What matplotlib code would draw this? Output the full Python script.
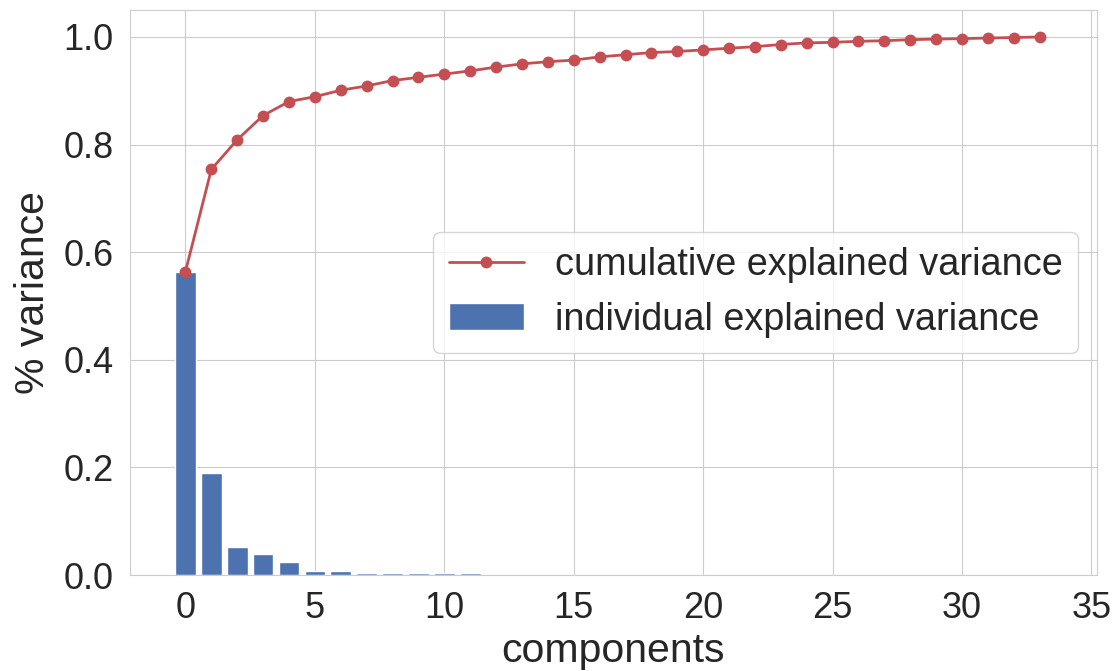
import matplotlib
matplotlib.use("Agg")
import matplotlib.pyplot as plt
import seaborn as sns

components = list(range(34))
individual = [0.564, 0.189, 0.053, 0.040, 0.024, 0.008, 0.008, 0.004, 0.004, 0.004,
              0.004, 0.004, 0.0, 0.0, 0.0, 0.0, 0.0, 0.0, 0.0, 0.0,
              0.0, 0.0, 0.0, 0.0, 0.0, 0.0, 0.0, 0.0, 0.0, 0.0,
              0.0, 0.0, 0.0, 0.0]
cumulative = [0.564, 0.754, 0.809, 0.854, 0.880, 0.889, 0.901, 0.909, 0.919, 0.925,
              0.931, 0.937, 0.944, 0.950, 0.954, 0.957, 0.963, 0.967, 0.971, 0.973,
              0.976, 0.979, 0.982, 0.986, 0.989, 0.990, 0.992, 0.993, 0.995, 0.996,
              0.997, 0.998, 0.999, 1.000]

sns.set_style("whitegrid")
plt.rcParams['font.family'] = ['Liberation Sans', 'DejaVu Sans']

fig, ax = plt.subplots(figsize=(11.19, 6.71), dpi=100)
ax.bar(components, individual, width=0.8, color="#4C72B0",
       label="individual explained variance")
ax.plot(components, cumulative, color="#C44E52", marker="o", markersize=7.5,
        linewidth=2, label="cumulative explained variance")

ax.set_xlim(-2.15, 35.2)
ax.set_ylim(0, 1.05)
ax.set_xticks(range(0, 36, 5))
ax.set_yticks([0.0, 0.2, 0.4, 0.6, 0.8, 1.0])
ax.tick_params(labelsize=26, colors=".15", pad=8)
ax.set_xlabel("components", fontsize=29.5, color=".15", labelpad=4)
ax.set_ylabel("% variance", fontsize=29.5, color=".15", labelpad=8)
for s in ax.spines.values():
    s.set_color(".8")

ax.legend(loc="center right", fontsize=27.3, frameon=True)

fig.subplots_adjust(left=0.116, right=0.98, top=0.985, bottom=0.143)
fig.savefig("out.png", dpi=100)
